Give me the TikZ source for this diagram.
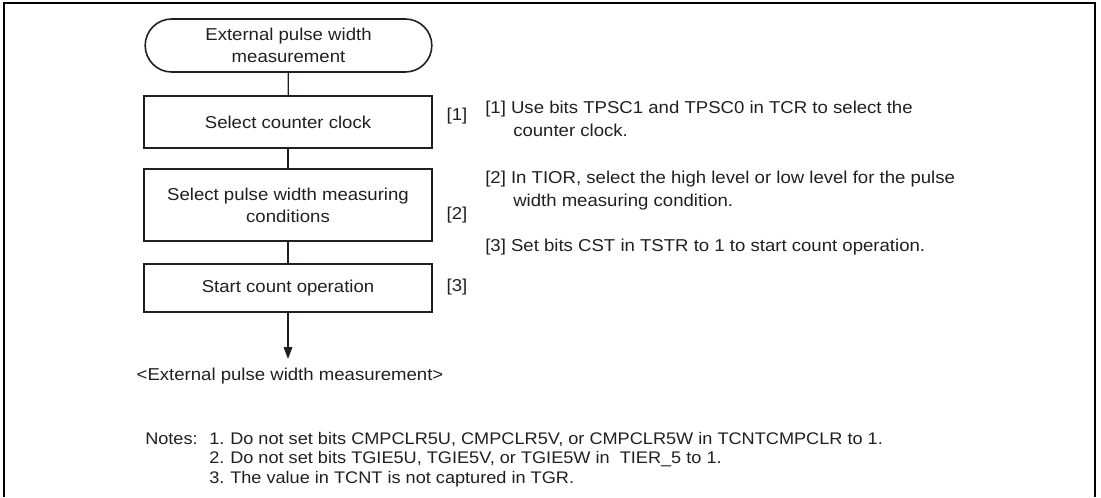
\documentclass[tikz,border=0pt]{standalone}
\usepackage{fontspec}
\setmainfont{Liberation Sans}[FakeStretch=1.08]
\usetikzlibrary{shapes.misc,arrows.meta}

\definecolor{FlowInk}{HTML}{231F20}
\definecolor{FlowFrame}{HTML}{000000}

\tikzset{
  flowbox/.style={draw=FlowInk,line width=1.2pt,minimum width=216pt,align=center,inner sep=0pt},
  termbox/.style={flowbox,rounded rectangle,minimum height=39.75pt,minimum width=215pt},
  link/.style={draw=FlowInk,line width=0.9pt},
  steptag/.style={inner sep=0pt},
  sidenote/.style={anchor=base west,inner sep=0pt},
  footnote/.style={sidenote,font=\fontsize{12.6}{16}\selectfont}
}

\begin{document}
\begin{tikzpicture}[x=0.75pt,y=-0.75pt,font=\fontsize{12.9}{16.5}\selectfont,text=FlowInk]
  \useasboundingbox (0,0) rectangle (1101,497);
  \draw[FlowFrame,line width=1.9pt] (4,497) -- (4,3) -- (1095,3) -- (1095,497);

  % flow
  \node[termbox] (start) at (288.5,45.5) {External pulse width\\measurement};
  \node[flowbox,minimum height=39pt] (clock) at (288,122) {Select counter clock};
  \node[flowbox,minimum height=54pt] (cond) at (288,205) {Select pulse width measuring\\conditions};
  \node[flowbox,minimum height=36pt] (count) at (288,288) {Start count operation};
  \coordinate (tip) at (288,359);
  \node[inner sep=0pt] (result) at (290,376) {<External pulse width measurement>};

  \draw[link] (start) -- (clock);
  \draw[link] (clock) -- (cond);
  \draw[link] (cond) -- (count);
  \draw[link,-{Triangle[width=6.5pt,length=9pt]}] (count) -- (tip);

  % step tags
  \node[steptag] (tag1) at (457,116) {[1]};
  \node[steptag] (tag2) at (457,215) {[2]};
  \node[steptag] (tag3) at (457,287) {[3]};

  % explanations
  \node[sidenote] (note1a) at (485,113) {[1] Use bits TPSC1 and TPSC0 in TCR to select the};
  \node[sidenote] (note1b) at (513,136) {counter clock.};
  \node[sidenote] (note2a) at (485,183) {[2] In TIOR, select the high level or low level for the pulse};
  \node[sidenote] (note2b) at (513,206) {width measuring condition.};
  \node[sidenote] (note3a) at (485,251) {[3] Set bits CST in TSTR to 1 to start count operation.};

  % notes
  \node[footnote] (notes) at (145,444) {Notes:};
  \node[footnote] (num1) at (209,444) {1.};
  \node[footnote] (num2) at (209,463) {2.};
  \node[footnote] (num3) at (209,483) {3.};
  \node[footnote] (item1) at (230,444) {Do not set bits CMPCLR5U, CMPCLR5V, or CMPCLR5W in TCNTCMPCLR to 1.};
  \node[footnote] (item2) at (230,463) {Do not set bits TGIE5U, TGIE5V, or TGIE5W in\ \ TIER\_5 to 1.};
  \node[footnote] (item3) at (230,483) {The value in TCNT is not captured in TGR.};
\end{tikzpicture}
\end{document}
